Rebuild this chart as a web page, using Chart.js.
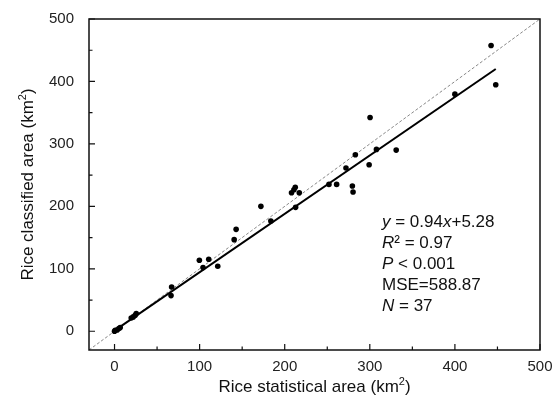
<!DOCTYPE html>
<html>
<head>
<meta charset="utf-8">
<script src="https://cdn.jsdelivr.net/npm/chart.js@4"></script>
<style>
  html, body { margin: 0; padding: 0; background: #fff; }
  #wrap { width: 554px; height: 401px; }
</style>
</head>
<body>
<div id="wrap"><canvas id="myChart"></canvas></div>
<script>
// statistical (x) vs classified (y) rice area, km2
const statArea = [442.5, 448, 400, 300.3, 307.8, 331, 283, 299.2, 272, 252, 261, 279.5, 280.3,
  212.4, 210.8, 208, 217.1, 212.8, 172, 183.7, 142.9, 140.6, 99.7, 110.7, 104, 121.3,
  67.1, 66.4, 25.5, 24.3, 19.6, 6.7, 5.1, 0.8, 0, 3, 22];
const classArea = [457.6, 394.7, 379.7, 342.4, 291.2, 290.1, 282.7, 266.7, 261.3, 235.2, 235.2, 232.5, 222.9,
  230.4, 226.7, 221.9, 221.9, 198.4, 200, 176.5, 163.2, 146.7, 113.6, 115.2, 101.9, 104,
  70.9, 57.1, 28.3, 25.6, 21.3, 5.9, 4.3, 1.6, 0, 2, 23];

// fitted line end points and 1:1 line
const fitX = [0, 448];
const fitY = [1, 420];
const oneX = [-30, 500];
const oneY = [-30, 500];

const majorTicks = [0, 100, 200, 300, 400, 500];
const minorTicks = [50, 150, 250, 350, 450];

const xTitle = ['Rice statistical area (km', '2', ')'];
const yTitle = ['Rice classified area (km', '2', ')'];

// stats text, each line split into [text, italic]
const statsLines = [
  [['y', true], [' = 0.94', false], ['x', true], ['+5.28', false]],
  [['R', true], ['\u00b2 = 0.97', false]],
  [['P', true], [' < 0.001', false]],
  [['MSE=588.87', false]],
  [['N', true], [' = 37', false]]
];

const FONT = "'Liberation Sans', Arial, sans-serif";

function toPoints(xs, ys) {
  return xs.map((x, i) => ({ x: x, y: ys[i] }));
}

function drawTitle(ctx, parts, cx, cy, rot) {
  ctx.save();
  ctx.translate(cx, cy);
  ctx.rotate(rot);
  ctx.fillStyle = '#111';
  ctx.textBaseline = 'alphabetic';
  ctx.textAlign = 'left';
  const big = '17px ' + FONT, small = '11px ' + FONT;
  ctx.font = big;
  const w0 = ctx.measureText(parts[0]).width;
  const w2 = ctx.measureText(parts[2]).width;
  ctx.font = small;
  const w1 = ctx.measureText(parts[1]).width;
  let x = -(w0 + w1 + w2) / 2;
  ctx.font = big;
  ctx.fillText(parts[0], x, 6);
  x += w0;
  ctx.font = small;
  ctx.fillText(parts[1], x, -1);
  x += w1;
  ctx.font = big;
  ctx.fillText(parts[2], x, 6);
  ctx.restore();
}

const framePlugin = {
  id: 'frame',
  afterDraw(chart) {
    const ctx = chart.ctx;
    const a = chart.chartArea;
    const xs = chart.scales.x, ys = chart.scales.y;
    ctx.save();
    ctx.strokeStyle = '#111';
    ctx.lineWidth = 1.5;
    ctx.strokeRect(a.left, a.top, a.right - a.left, a.bottom - a.top);
    ctx.lineWidth = 1.2;
    ctx.beginPath();
    majorTicks.forEach(v => {
      const px = xs.getPixelForValue(v);
      ctx.moveTo(px, a.bottom); ctx.lineTo(px, a.bottom - 6);
      const py = ys.getPixelForValue(v);
      ctx.moveTo(a.left, py); ctx.lineTo(a.left + 6, py);
    });
    minorTicks.forEach(v => {
      const px = xs.getPixelForValue(v);
      ctx.moveTo(px, a.bottom); ctx.lineTo(px, a.bottom - 3.5);
      const py = ys.getPixelForValue(v);
      ctx.moveTo(a.left, py); ctx.lineTo(a.left + 3.5, py);
    });
    ctx.stroke();
    ctx.restore();

    drawTitle(ctx, xTitle, (a.left + a.right) / 2, 386, 0);
    drawTitle(ctx, yTitle, 27, (a.top + a.bottom) / 2, -Math.PI / 2);

    ctx.save();
    ctx.fillStyle = '#111';
    ctx.textBaseline = 'alphabetic';
    ctx.textAlign = 'left';
    statsLines.forEach((line, i) => {
      let x = 382;
      const y = 227 + i * 20.9;
      line.forEach(seg => {
        ctx.font = (seg[1] ? 'italic ' : '') + '17px ' + FONT;
        ctx.fillText(seg[0], x, y);
        x += ctx.measureText(seg[0]).width;
      });
    });
    ctx.restore();
  }
};

const ctx = document.getElementById('myChart');
const myChart = new Chart(ctx, {
  type: 'scatter',
  data: {
    datasets: [
      {
        label: '1:1',
        data: toPoints(oneX, oneY),
        showLine: true,
        borderColor: '#888',
        borderWidth: 1,
        borderDash: [3, 2],
        pointRadius: 0,
        order: 3
      },
      {
        label: 'fit',
        data: toPoints(fitX, fitY),
        showLine: true,
        borderColor: '#000',
        borderWidth: 2,
        pointRadius: 0,
        order: 2
      },
      {
        label: 'areas',
        data: toPoints(statArea, classArea),
        backgroundColor: '#000',
        borderColor: '#000',
        pointRadius: 2.8,
        borderWidth: 0,
        order: 1
      }
    ]
  },
  options: {
    responsive: true,
    maintainAspectRatio: false,
    animation: false,
    layout: { padding: { top: 19, right: 14, left: 0, bottom: 0 } },
    plugins: {
      legend: { display: false },
      tooltip: { enabled: false }
    },
    scales: {
      x: {
        type: 'linear',
        min: -30,
        max: 500,
        grid: { display: false },
        border: { display: false },
        afterBuildTicks: s => { s.ticks = majorTicks.map(v => ({ value: v })); },
        afterFit: s => { s.height = 51; s.paddingLeft = 0; s.paddingRight = 0; },
        ticks: {
          color: '#222',
          padding: 0,
          maxRotation: 0,
          font: { family: FONT, size: 15 }
        }
      },
      y: {
        type: 'linear',
        min: -30,
        max: 500,
        grid: { display: false },
        border: { display: false },
        afterBuildTicks: s => { s.ticks = majorTicks.map(v => ({ value: v })); },
        afterFit: s => { s.width = 89; s.paddingTop = 0; s.paddingBottom = 0; },
        ticks: {
          color: '#222',
          padding: 7,
          font: { family: FONT, size: 15 }
        }
      }
    }
  },
  plugins: [framePlugin]
});
</script>
</body>
</html>
